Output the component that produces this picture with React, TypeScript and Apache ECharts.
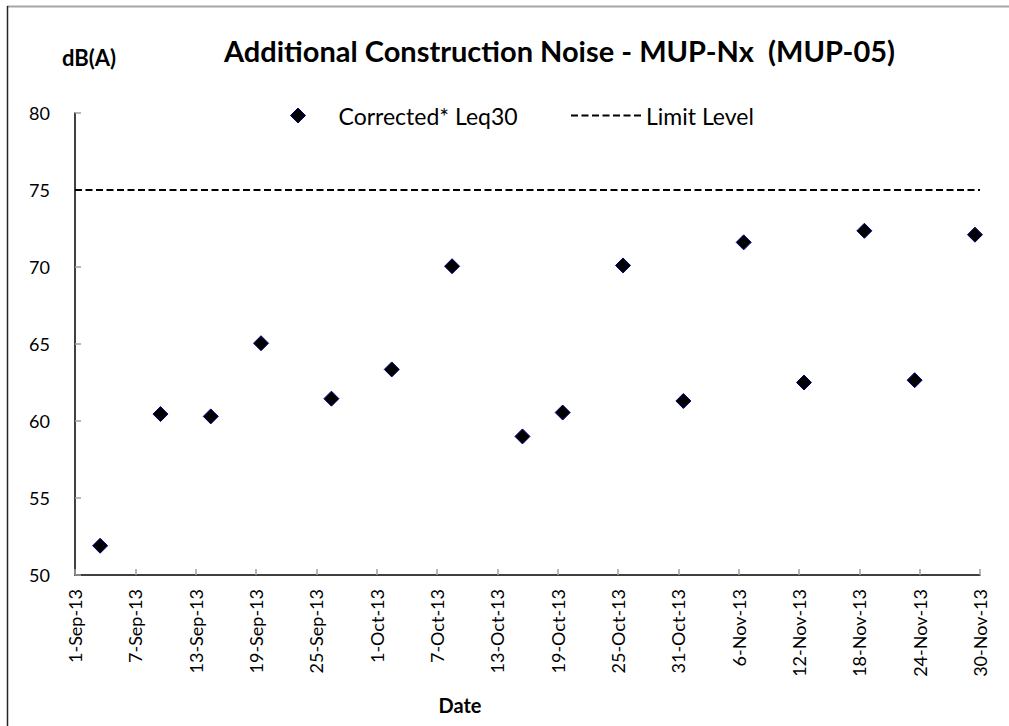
import React, { useEffect, useRef } from "react";
import * as echarts from "echarts";

const TITLE = "Additional Construction Noise - MUP-Nx  (MUP-05)";
const Y_UNIT = "dB(A)";
const X_NAME = "Date";
const SERIES_NAMES = ["Corrected* Leq30", "Limit Level"];

const AXIS_START = "2013-09-01";
const AXIS_END = "2013-11-30";
const TICK_DAYS = 6;
const Y_MIN = 50;
const Y_MAX = 80;
const Y_STEP = 5;

const measureDates = [
  "2013-09-03 12:00", "2013-09-09 12:00", "2013-09-14 12:00", "2013-09-19 12:00",
  "2013-09-26 12:00", "2013-10-02 12:00", "2013-10-08 12:00", "2013-10-15 12:00",
  "2013-10-19 12:00", "2013-10-25 12:00", "2013-10-31 12:00", "2013-11-06 12:00",
  "2013-11-12 12:00", "2013-11-18 12:00", "2013-11-23 12:00", "2013-11-29 12:00",
];
const leqValues = [
  51.9, 60.45, 60.3, 65.05, 61.45, 63.35, 70.05, 59.0,
  60.55, 70.1, 61.3, 71.6, 62.5, 72.35, 62.65, 72.1,
];
const limitDates = ["2013-09-01", "2013-11-30"];
const limitValues = [75, 75];

const MONTHS = ["Jan", "Feb", "Mar", "Apr", "May", "Jun", "Jul", "Aug", "Sep", "Oct", "Nov", "Dec"];

function toUTC(s: string): number {
  const [d, t] = s.split(" ");
  const [y, m, dd] = d.split("-").map(Number);
  const h = t ? Number(t.split(":")[0]) : 0;
  return Date.UTC(y, m - 1, dd, h);
}
const DAY = 86400000;
const origin = toUTC(AXIS_START);
const dayOffset = (s: string) => (toUTC(s) - origin) / DAY;

function fmtDay(v: number): string {
  const dt = new Date(origin + Math.round(v) * DAY);
  const yy = String(dt.getUTCFullYear()).slice(2);
  return `${dt.getUTCDate()}-${MONTHS[dt.getUTCMonth()]}-${yy}`;
}

// legend icon: seven short dashes
const DASH_ICON =
  "path://" +
  [0, 1, 2, 3, 4, 5, 6]
    .map((i) => `M${i * 10.5},0H${i * 10.5 + 7}V2H${i * 10.5}Z`)
    .join("");

const FONT = "Lato, 'Open Sans', sans-serif";

export default function App() {
  const ref = useRef<HTMLDivElement>(null);
  useEffect(() => {
    if (!ref.current) return;
    const chart = echarts.init(ref.current, undefined, { renderer: "svg" });
    const scatterData = measureDates.map((d, i) => [dayOffset(d), leqValues[i]]);
    const limitData = limitDates.map((d, i) => [dayOffset(d), limitValues[i]]);
    chart.setOption({
      animation: false,
      backgroundColor: "#ffffff",
      textStyle: { fontFamily: FONT },
      title: {
        text: TITLE,
        left: 219,
        top: 31,
        textStyle: { fontFamily: FONT, fontSize: 29, fontWeight: "bold", color: "#000" },
      },
      legend: [
        {
          left: 290,
          top: 104,
          padding: 0,
          itemWidth: 15,
          itemHeight: 15,
          textStyle: { fontFamily: FONT, fontSize: 23, color: "#000", padding: [0, 0, 0, 28] },
          data: [{ name: SERIES_NAMES[0], icon: "diamond", itemStyle: { color: "#000", borderColor: "#000080", borderWidth: 1 } }],
        },
        {
          left: 571,
          top: 104,
          padding: 0,
          itemWidth: 70,
          itemHeight: 2,
          textStyle: { fontFamily: FONT, fontSize: 23, color: "#000" },
          data: [{ name: SERIES_NAMES[1], icon: DASH_ICON, itemStyle: { color: "#000", borderWidth: 0 } }],
        },
      ],
      grid: { left: 75, right: 29, top: 113, bottom: 151, containLabel: false },
      xAxis: {
        type: "value",
        min: 0,
        max: dayOffset(AXIS_END),
        interval: TICK_DAYS,
        axisLine: { show: true, lineStyle: { color: "#000", width: 1.5 } },
        axisTick: { show: true, inside: true, length: 6, lineStyle: { color: "#a0a0a0", width: 1.5 } },
        splitLine: { show: false },
        axisLabel: {
          rotate: 90,
          margin: 14,
          fontFamily: FONT,
          fontSize: 18,
          color: "#000",
          padding: [10, 0, 0, 0],
          formatter: (v: number) => fmtDay(v),
        },
      },
      yAxis: {
        type: "value",
        min: Y_MIN,
        max: Y_MAX,
        interval: Y_STEP,
        axisLine: { show: true, lineStyle: { color: "#000", width: 1.5 } },
        axisTick: { show: true, inside: true, length: 6, lineStyle: { color: "#a0a0a0", width: 1.5 } },
        splitLine: { show: false },
        axisLabel: { margin: 25, fontFamily: FONT, fontSize: 18, color: "#000" },
      },
      series: [
        {
          name: SERIES_NAMES[0],
          type: "scatter",
          symbol: "diamond",
          symbolSize: 15,
          itemStyle: { color: "#000000", borderColor: "#000080", borderWidth: 1, opacity: 1 },
          data: scatterData,
          z: 3,
        },
        {
          name: SERIES_NAMES[1],
          type: "line",
          symbol: "none",
          itemStyle: { color: "#000" },
          lineStyle: { color: "#000", width: 2, type: [7, 3.5] },
          data: limitData,
          z: 2,
        },
      ],
      graphic: [
        {
          type: "line",
          shape: { x1: 7, y1: 6.5, x2: 1009, y2: 6.5 },
          style: { stroke: "#a6a6a6", lineWidth: 2 },
        },
        {
          type: "line",
          shape: { x1: 7.5, y1: 6, x2: 7.5, y2: 726 },
          style: { stroke: "#262626", lineWidth: 1.5 },
        },
        {
          type: "text",
          x: 89,
          y: 57,
          style: {
            text: Y_UNIT,
            fontFamily: FONT,
            fontSize: 22,
            fontWeight: "bold",
            fill: "#000",
            align: "center",
            verticalAlign: "middle",
          },
        },
        {
          type: "text",
          x: 460,
          y: 705,
          style: {
            text: X_NAME,
            fontFamily: FONT,
            fontSize: 20,
            fontWeight: "bold",
            fill: "#000",
            align: "center",
            verticalAlign: "middle",
          },
        },
      ],
    });
    return () => chart.dispose();
  }, []);
  return (
    <div
      ref={ref}
      style={{ position: "fixed", left: 0, top: 0, width: 1009, height: 726, background: "#fff" }}
    />
  );
}
